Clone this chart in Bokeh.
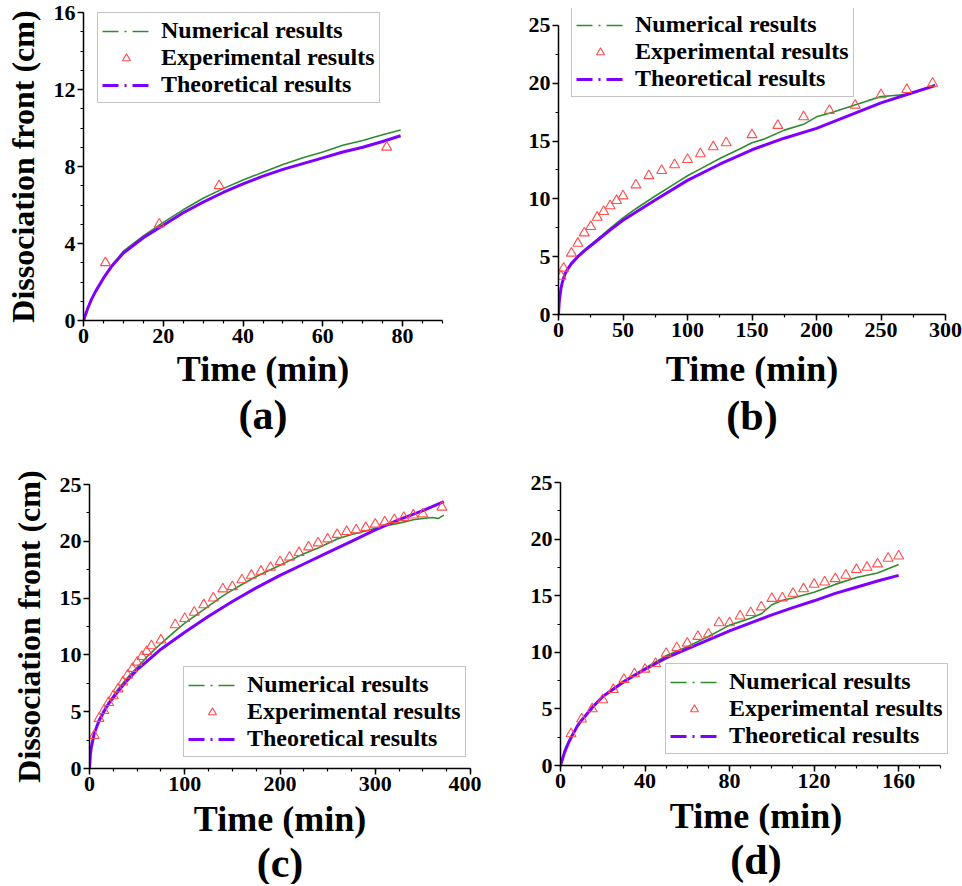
from bokeh.plotting import figure
from bokeh.layouts import column, row
from bokeh.models import Legend, LegendItem, Title, FixedTicker, Range1d
from bokeh.embed import file_html
from bokeh.resources import INLINE

FONT = "Liberation Serif"
GREEN = "#2e8b2e"
PURPLE = "#7f00ff"
RED = "#ff4d4d"

# ---------------- data ----------------
# (a)
a_exp_t = [5.5, 19, 34, 76]
a_exp_y = [3.0, 5.0, 7.0, 9.0]
a_num_t = [0, 1, 2, 3, 5, 7, 10, 15, 20, 25, 30, 35, 40, 45, 50, 55, 60, 65, 70, 75, 79.5]
a_num_y = [0, 0.6, 1.1, 1.5, 2.2, 2.85, 3.6, 4.4, 5.1, 5.75, 6.35, 6.85, 7.3, 7.7, 8.1, 8.45, 8.75, 9.1, 9.35, 9.65, 9.9]
a_th_t = [0, 1, 2, 3, 5, 7, 10, 15, 20, 25, 30, 35, 40, 45, 50, 55, 60, 65, 70, 75, 79.5]
a_th_y = [0, 0.6, 1.1, 1.5, 2.2, 2.8, 3.5, 4.3, 4.95, 5.6, 6.15, 6.65, 7.1, 7.5, 7.85, 8.15, 8.45, 8.75, 9.0, 9.3, 9.6]
a_xticks = [0, 20, 40, 60, 80]
a_yticks = [0, 4, 8, 12, 16]

# (b)
b_exp_t = [2, 4, 10, 15, 20, 25, 30, 35, 40, 45, 50, 60, 70, 80, 90, 100, 110, 120, 130,
           150, 170, 190, 210, 230, 250, 270, 290]
b_exp_y = [3.3, 4.0, 5.3, 6.15, 7.05, 7.6, 8.4, 8.9, 9.4, 9.85, 10.25, 11.2, 12.0, 12.45, 12.95,
           13.4, 13.9, 14.5, 14.85, 15.55, 16.35, 17.1, 17.65, 18.1, 19.0, 19.45, 20.0]
b_num_t = [0, 0.5, 1, 2, 3, 5, 7, 10, 15, 20, 30, 40, 50, 60, 75, 90, 100, 110, 125, 140, 150,
           160, 175, 190, 200, 210, 225, 240, 250, 260, 270, 280, 292]
b_num_y = [0, 1.0, 1.5, 2.3, 2.8, 3.5, 3.9, 4.45, 5.05, 5.6, 6.5, 7.45, 8.35, 9.15, 10.25, 11.3,
           12.0, 12.6, 13.5, 14.3, 14.85, 15.2, 15.95, 16.45, 17.1, 17.4, 17.95, 18.5, 18.85,
           18.95, 19.05, 19.4, 19.9]
b_th_t = [0, 0.5, 1, 2, 3, 5, 7, 10, 15, 20, 30, 40, 50, 75, 100, 125, 150, 175, 200, 225,
          250, 275, 292]
b_th_y = [0, 1.0, 1.5, 2.3, 2.8, 3.5, 3.9, 4.4, 5.0, 5.5, 6.4, 7.3, 8.15, 9.9, 11.6, 13.0,
          14.25, 15.25, 16.1, 17.2, 18.3, 19.2, 19.8]
b_xticks = [0, 50, 100, 150, 200, 250, 300]
b_yticks = [0, 5, 10, 15, 20, 25]

# (c)
c_exp_t = [5, 10, 15, 20, 25, 30, 35, 40, 45, 50, 55, 60, 65, 75, 90, 100, 110, 120, 130, 140,
           150, 160, 170, 180, 190, 200, 210, 220, 230, 240, 250, 260, 270, 280, 290, 300, 310,
           320, 330, 340, 350, 370]
c_exp_y = [2.9, 4.4, 5.1, 5.8, 6.4, 7.0, 7.6, 8.2, 8.8, 9.35, 9.85, 10.3, 10.8, 11.3, 12.65, 13.2,
           13.75, 14.4, 15.0, 15.8, 16.0, 16.6, 17.0, 17.35, 17.7, 18.2, 18.6, 19.0, 19.5, 19.85,
           20.2, 20.6, 20.85, 21.0, 21.2, 21.5, 21.7, 21.9, 22.1, 22.3, 22.4, 23.0]
c_num_t = [0, 1, 2, 5, 10, 15, 20, 30, 40, 50, 60, 75, 90, 100, 110, 125, 140, 150, 160, 175,
           190, 200, 210, 225, 240, 250, 260, 275, 290, 300, 310, 325, 340, 350, 360, 366, 372]
c_num_y = [0, 1.3, 1.9, 3.1, 4.3, 5.1, 5.8, 7.0, 8.0, 8.9, 9.8, 11.0, 12.1, 12.8, 13.4, 14.3,
           15.2, 15.7, 16.2, 16.9, 17.5, 17.9, 18.3, 18.9, 19.4, 19.8, 20.2, 20.6, 20.9, 21.15,
           21.35, 21.6, 21.9, 22.0, 22.1, 22.0, 22.3]
c_th_t = [0, 1, 2, 5, 10, 15, 20, 30, 40, 50, 60, 75, 100, 125, 150, 175, 200, 225, 250, 275,
          300, 325, 350, 372]
c_th_y = [0, 1.3, 1.9, 3.1, 4.2, 5.0, 5.7, 6.8, 7.8, 8.7, 9.4, 10.5, 12.0, 13.4, 14.7, 15.9,
          17.0, 18.0, 19.0, 20.0, 21.0, 21.9, 22.7, 23.5]
c_xticks = [0, 100, 200, 300, 400]
c_yticks = [0, 5, 10, 15, 20, 25]

# (d)
d_exp_t = [5, 10, 15, 20, 25, 30, 35, 40, 45, 50, 55, 60, 65, 70, 75, 80, 85, 90, 95, 100, 105,
           110, 115, 120, 125, 130, 135, 140, 145, 150, 155, 160]
d_exp_y = [2.8, 4.1, 5.0, 5.8, 6.7, 7.6, 8.1, 8.5, 9.0, 9.9, 10.4, 10.8, 11.4, 11.6, 12.6, 12.6,
           13.2, 13.5, 14.0, 14.75, 14.8, 15.2, 15.6, 16.0, 16.2, 16.5, 16.8, 17.3, 17.5, 17.8,
           18.3, 18.5]
d_num_t = [0, 2, 5, 10, 15, 20, 30, 40, 50, 60, 70, 80, 90, 95, 100, 105, 110, 120, 130, 140,
           150, 160]
d_num_y = [0, 1.4, 2.6, 4.0, 5.2, 6.1, 7.5, 8.6, 9.7, 10.5, 11.4, 12.4, 13.0, 13.4, 14.2, 14.6,
           14.8, 15.3, 16.0, 16.6, 17.0, 17.75]
d_th_t = [0, 2, 4, 8, 10, 15, 20, 30, 40, 50, 60, 70, 80, 90, 100, 110, 120, 130, 140, 150, 160]
d_th_y = [0, 1.2, 2.1, 3.5, 4.0, 5.1, 6.1, 7.4, 8.5, 9.5, 10.3, 11.1, 11.9, 12.6, 13.3, 13.95,
          14.55, 15.2, 15.75, 16.3, 16.8]
d_xticks = [0, 40, 80, 120, 160]
d_yticks = [0, 5, 10, 15, 20, 25]

LABELS = ["Numerical results", "Experimental results", "Theoretical results"]
X_LABEL = "Time (min)"
Y_LABEL = "Dissociation front (cm)"


def panel(tag, num_t, num_y, exp_t, exp_y, th_t, th_y, xaxis_max, yaxis_max, xview, yview,
          xticks, xminor_step, yticks, yminor_step, borders, legend_loc, ylabel, lab_so, tit_so):
    bl, bt, br, bb = borders
    p = figure(width=481, height=442, output_backend="svg", toolbar_location=None,
               x_range=Range1d(0, xview), y_range=Range1d(0, yview),
               min_border_left=bl, min_border_top=bt, min_border_right=br,
               min_border_bottom=bb)
    p.outline_line_color = None
    p.xgrid.visible = False
    p.ygrid.visible = False
    p.background_fill_color = "white"

    n_x = int(round(xaxis_max / xminor_step))
    n_y = int(round(yaxis_max / yminor_step))
    p.xaxis.ticker = FixedTicker(ticks=xticks, minor_ticks=[i * xminor_step for i in range(n_x + 1)])
    p.yaxis.ticker = FixedTicker(ticks=yticks, minor_ticks=[i * yminor_step for i in range(n_y + 1)])
    p.xaxis.bounds = (0, xaxis_max)
    p.yaxis.bounds = (0, yaxis_max)

    for ax in (p.xaxis[0], p.yaxis[0]):
        ax.axis_line_width = 1.5
        ax.axis_line_color = "black"
        ax.major_tick_line_width = 1.5
        ax.minor_tick_line_width = 1.2
        ax.major_tick_out = 6
        ax.major_tick_in = 0
        ax.minor_tick_out = 3
        ax.minor_tick_in = 0
        ax.major_label_text_font = FONT
        ax.major_label_text_font_style = "bold"
        ax.major_label_text_font_size = "22px"
        ax.major_label_text_color = "black"
        ax.major_label_standoff = 2
        ax.axis_label_text_font = FONT
        ax.axis_label_text_font_style = "bold"
        ax.axis_label_text_color = "black"

    p.xaxis.axis_label = X_LABEL
    p.xaxis.axis_label_text_font_size = "36px"
    p.xaxis.axis_label_standoff = lab_so
    if ylabel:
        p.yaxis.axis_label = Y_LABEL
        p.yaxis.axis_label_text_font_size = "32px"
        p.yaxis.axis_label_standoff = 10

    p.line(num_t, num_y, line_color=GREEN, line_width=1.6)
    p.line(th_t, th_y, line_color=PURPLE, line_width=3)
    s = p.scatter(exp_t, exp_y, marker="triangle", size=10, line_color=RED,
                  fill_color=None, line_width=1.1)
    # legend samples (dash-dot); a single point draws nothing in the plot area
    g_leg = p.line(num_t[:1], num_y[:1], line_color=GREEN, line_width=1.6, line_dash="16 6 2 6")
    p_leg = p.line(th_t[:1], th_y[:1], line_color=PURPLE, line_width=3, line_dash="16 6 2 6")

    legend = Legend(items=[LegendItem(label=LABELS[0], renderers=[g_leg]),
                           LegendItem(label=LABELS[1], renderers=[s]),
                           LegendItem(label=LABELS[2], renderers=[p_leg])],
                    location=legend_loc)
    legend.label_text_font = FONT
    legend.label_text_font_style = "bold"
    legend.label_text_font_size = "24px"
    legend.label_text_color = "black"
    legend.glyph_width = 48
    legend.glyph_height = 20
    legend.label_standoff = 11
    legend.label_height = 24
    legend.spacing = 0
    legend.padding = 4
    legend.margin = 0
    legend.border_line_color = "#8a8a8a"
    legend.border_line_width = 1.5
    legend.background_fill_color = "white"
    legend.background_fill_alpha = 1.0
    p.add_layout(legend)

    t = Title(text=tag, align="center", text_font=FONT, text_font_style="bold",
              text_font_size="42px", text_color="black", standoff=tit_so)
    p.add_layout(t, "below")
    return p


pa = panel("(a)", a_num_t, a_num_y, a_exp_t, a_exp_y, a_th_t, a_th_y, 90, 16, 90, 16,
           a_xticks, 5, a_yticks, 1, (83, 12, 39, 122), (14, 217), True, 3, -3)
pb = panel("(b)", b_num_t, b_num_y, b_exp_t, b_exp_y, b_th_t, b_th_y, 300, 25, 300, 26.47,
           b_xticks, 25, b_yticks, 2.5, (77, 8, 17, 128), (13, 217), False, 9, -2)
pc = panel("(c)", c_num_t, c_num_y, c_exp_t, c_exp_y, c_th_t, c_th_y, 400, 25, 400, 25,
           c_xticks, 25, c_yticks, 2.5, (89, 42, 11, 116), (94, 11), True, 5, -8)
pd = panel("(d)", d_num_t, d_num_y, d_exp_t, d_exp_y, d_th_t, d_th_y, 180, 25, 185, 25,
           d_xticks, 10, d_yticks, 2.5, (79, 40, 11, 119), (105, 11), False, 5, -8)

layout = column(row(column(pa), column(pb), spacing=0),
                row(column(pc), column(pd), spacing=0), spacing=0)

open("out.html", "w").write(file_html(layout, INLINE))
